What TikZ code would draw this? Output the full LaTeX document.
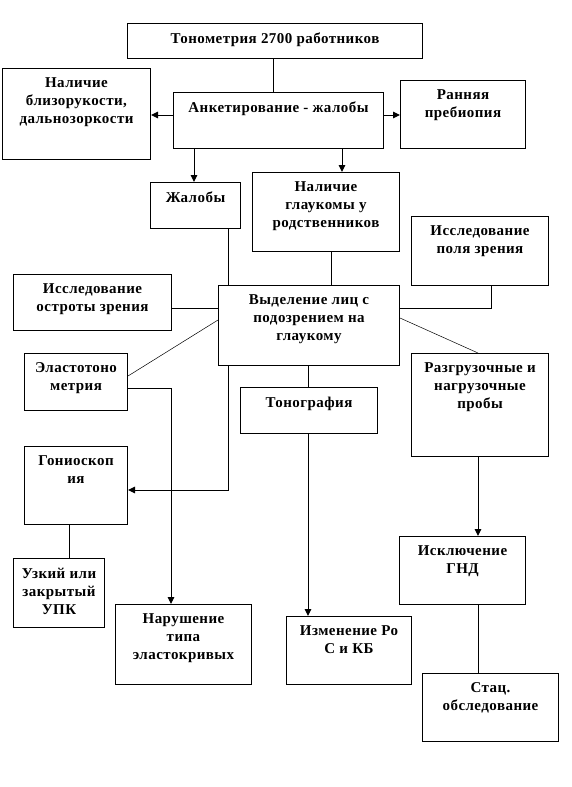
\documentclass[tikz,border=0pt]{standalone}
\usepackage{fontspec}
\setmainfont{Liberation Serif}[LetterSpace=3]
\usetikzlibrary{arrows.meta}
\tikzset{
  box/.style={draw, line width=1pt, inner sep=0pt, anchor=north west},
  txt/.style={anchor=north, inner sep=0pt, align=center, font=\fontsize{15}{18}\selectfont\bfseries},
  conn/.style={line width=1pt},
  thin/.style={line width=0.5pt},
  arr/.style={line width=1pt, -{Triangle[length=7pt,width=6.5pt]}}
}
\newcommand\bx[6]{%
  \node[box, minimum width={(#4-#2)*1pt}, minimum height={(#5-#3)*1pt}] (#1) at (#2,#3) {};
  \node[txt] (#1t) at ([yshift=-9.5pt]#1.north) {#6};}
\begin{document}
\begin{tikzpicture}[x=1pt,y=-1pt]
\useasboundingbox (0,0) rectangle (571,787);
\bx{top}{127}{23}{422}{58}{Тонометрия 2700 работников}
\bx{miop}{2}{68}{150}{159}{Наличие\\близорукости,\\дальнозоркости}
\bx{anket}{173}{92}{383}{148}{Анкетирование - жалобы}
\bx{rann}{400}{80}{525}{148}{Ранняя\\пребиопия}
\bx{zhal}{150}{182}{240}{228}{Жалобы}
\bx{glauk}{252}{172}{399}{251}{Наличие\\глаукомы у\\родственников}
\bx{pole}{411}{216}{548}{285}{Исследование\\поля зрения}
\bx{ostr}{13}{274}{171}{330}{Исследование\\остроты зрения}
\bx{vyd}{218}{285}{399}{365}{Выделение лиц с\\подозрением на\\глаукому}
\bx{elast}{24}{353}{127}{410}{Эластотоно\\метрия}
\bx{razg}{411}{353}{548}{456}{Разгрузочные и\\нагрузочные\\пробы}
\bx{tonog}{240}{387}{377}{433}{Тонография}
\bx{gonio}{24}{446}{127}{524}{Гониоскоп\\ия}
\bx{uzk}{13}{558}{104}{627}{Узкий или\\закрытый\\УПК}
\bx{narush}{115}{604}{251}{684}{Нарушение\\типа\\эластокривых}
\bx{izm}{286}{616}{411}{684}{Изменение Ро\\С и КБ}
\bx{iskl}{399}{536}{525}{604}{Исключение\\ГНД}
\bx{stac}{422}{673}{558}{741}{Стац.\\обследование}
% helper coordinates
\coordinate (x273) at (273,0);
\coordinate (x194) at (194,0);
\coordinate (x342) at (342,0);
\coordinate (x228) at (228,0);
\coordinate (x331) at (331,0);
\coordinate (x491) at (491,0);
\coordinate (x308) at (308,0);
\coordinate (x171) at (171,0);
\coordinate (x69) at (69,0);
\coordinate (x478) at (478,0);
\coordinate (y115) at (0,115);
\coordinate (y308) at (0,308);
\coordinate (y320) at (0,320);
\coordinate (y318) at (0,318);
\coordinate (y376) at (0,376);
\coordinate (y388) at (0,388);
\coordinate (y490) at (0,490);
% connectors
\draw[conn] (top.south -| x273) -- (anket.north -| x273);
\draw[arr] (anket.west |- y115) -- (miop.east |- y115);
\draw[arr] (anket.east |- y115) -- (rann.west |- y115);
\draw[arr] (anket.south -| x194) -- (zhal.north -| x194);
\draw[arr] (anket.south -| x342) -- (glauk.north -| x342);
\draw[conn] (zhal.south -| x228) -- (vyd.north -| x228);
\draw[conn] (glauk.south -| x331) -- (vyd.north -| x331);
\draw[conn] (pole.south -| x491) -- (x491 |- y308) -- (vyd.east |- y308);
\draw[conn] (ostr.east |- y308) -- (vyd.west |- y308);
\draw[thin] (elast.east |- y376) -- (vyd.west |- y320);
\draw[thin] (vyd.east |- y318) -- (razg.north -| x478);
\draw[conn] (vyd.south -| x308) -- (tonog.north -| x308);
\draw[arr] (tonog.south -| x308) -- (izm.north -| x308);
\draw[arr] (vyd.south -| x228) -- (x228 |- y490) -- (gonio.east |- y490);
\draw[arr] (elast.east |- y388) -- (x171 |- y388) -- (narush.north -| x171);
\draw[conn] (gonio.south -| x69) -- (uzk.north -| x69);
\draw[arr] (razg.south -| x478) -- (iskl.north -| x478);
\draw[conn] (iskl.south -| x478) -- (stac.north -| x478);
\end{tikzpicture}
\end{document}
